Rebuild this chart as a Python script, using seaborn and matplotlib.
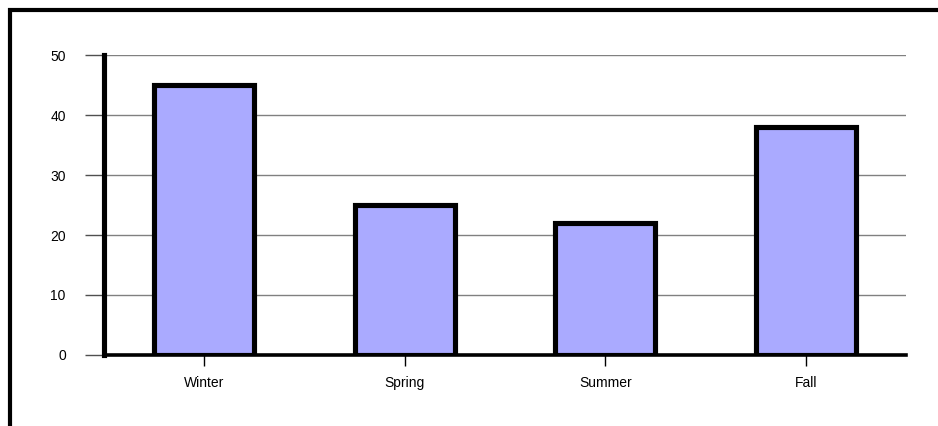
import matplotlib
matplotlib.use("Agg")
import matplotlib.pyplot as plt
import seaborn as sns
import pandas as pd
from matplotlib.lines import Line2D

seasons = ["Winter", "Spring", "Summer", "Fall"]
values = [45, 25, 22, 38]
yticks = [0, 10, 20, 30, 40, 50]

sns.set_style("white")
plt.rcParams['font.family'] = ['Liberation Sans', 'DejaVu Sans']

W, H = 938, 426
fig = plt.figure(figsize=(W / 100, H / 100), dpi=100)
ax = fig.add_axes([104 / W, 1 - 355 / H, (906 - 104) / W, (355 - 55) / H])

df = pd.DataFrame({"season": seasons, "value": values})
sns.barplot(data=df, x="season", y="value", ax=ax, color="#aaaaff",
            saturation=1, width=0.5, edgecolor="black", linewidth=3.7)

ax.set_ylim(0, 50)
ax.set_xlim(-0.5, 3.5)
ax.set_yticks(yticks)
ax.set_yticklabels([str(v) for v in yticks])
ax.set_xlabel("")
ax.set_ylabel("")

for y in yticks[1:]:
    ax.axhline(y, color="#808080", lw=1, zorder=0)

for s in ["top", "right"]:
    ax.spines[s].set_visible(False)
ax.spines["left"].set_linewidth(3.7)
ax.spines["left"].set_color("black")
ax.spines["bottom"].set_linewidth(2.6)
ax.spines["bottom"].set_color("black")

ax.tick_params(axis="y", length=13.5, width=1, color="#505050", pad=14,
               labelsize=10, left=True, labelcolor="black")
ax.tick_params(axis="x", length=8, width=1, color="black", pad=7,
               labelsize=10, bottom=True, labelcolor="black")

# outer frame (top and left visible)
fig.add_artist(Line2D([8 / W, 1.0], [1 - 10 / H, 1 - 10 / H],
                      color="black", lw=3, transform=fig.transFigure,
                      solid_capstyle="butt"))
fig.add_artist(Line2D([10 / W, 10 / W], [1 - 8 / H, 0.0],
                      color="black", lw=3, transform=fig.transFigure,
                      solid_capstyle="butt"))

fig.savefig("out.png", dpi=100)
